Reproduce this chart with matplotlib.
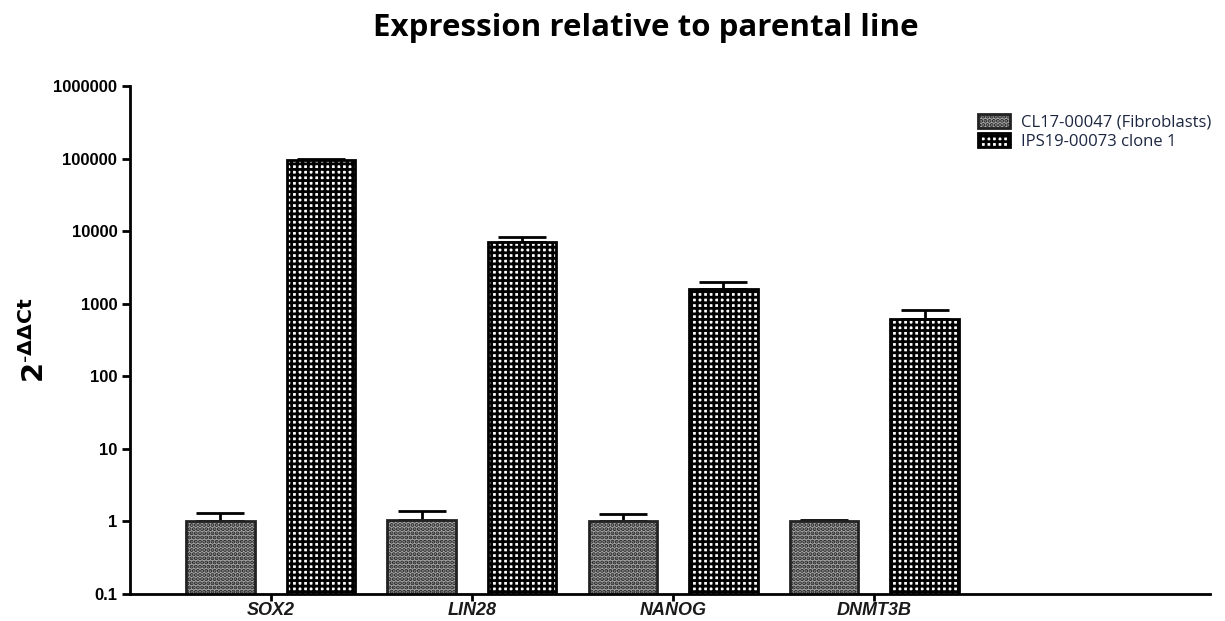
import matplotlib.pyplot as plt
import numpy as np

plt.rcParams['hatch.linewidth'] = 2.0

genes = ["SOX2", "LIN28", "NANOG", "DNMT3B"]
series = ["CL17-00047 (Fibroblasts)", "IPS19-00073 clone 1"]

fibro_mean = [1.0, 1.05, 1.0, 1.0]
fibro_err = [0.3, 0.35, 0.28, 0.05]
ips_mean = [95000, 7100, 1600, 620]
ips_err = [5000, 1100, 380, 210]

yticks = [0.1, 1, 10, 100, 1000, 10000, 100000, 1000000]
ytick_labels = ["0.1", "1", "10", "100", "1000", "10000", "100000", "1000000"]

fig = plt.figure(figsize=(12.25, 6.21), dpi=100)
ax = fig.add_axes([0.106, 0.0435, 0.882, 0.818])

x = np.arange(len(genes))
w = 0.34
off = 0.25

b1 = ax.bar(x - off, fibro_mean, w, color="#a8a8a8", edgecolor="#222222",
            hatch="....", linewidth=2, label=series[0], zorder=2)
b2 = ax.bar(x + off, ips_mean, w, color="white", edgecolor="black",
            hatch="+++", linewidth=2, label=series[1], zorder=2)

# upper error bars only
ax.errorbar(x - off, fibro_mean, yerr=[np.zeros(4), fibro_err], fmt="none",
            ecolor="black", elinewidth=2, capsize=17, capthick=2, zorder=1)
ax.errorbar(x + off, ips_mean, yerr=[np.zeros(4), ips_err], fmt="none",
            ecolor="black", elinewidth=2, capsize=17, capthick=2, zorder=1)

ax.set_yscale("log")
ax.set_ylim(0.1, 1000000)
ax.set_xlim(-0.70, 4.67)
ax.set_yticks(yticks)
ax.set_yticklabels(ytick_labels, fontfamily="Liberation Sans",
                   fontweight="bold", fontsize=12)
ax.yaxis.set_minor_locator(plt.NullLocator())
ax.set_xticks(x)
ax.set_xticklabels(genes, fontfamily="Liberation Sans", fontweight="bold",
                   fontstyle="italic", fontsize=13, color="#1a1a1a")

for s in ["top", "right"]:
    ax.spines[s].set_visible(False)
for s in ["left", "bottom"]:
    ax.spines[s].set_linewidth(2)
ax.tick_params(axis="y", direction="out", width=2, length=6, pad=3)
ax.tick_params(axis="x", direction="out", width=2, length=5, pad=1)

ax.set_ylabel(r"$\mathbf{2^{\text{-}\Delta\Delta Ct}}$", fontsize=21)
ax.yaxis.set_label_coords(-0.074, 0.5)

fig.text(0.527, 0.955, "Expression relative to parental line",
         fontfamily="Open Sans", fontweight="bold", fontsize=22.5,
         ha="center", va="center")

ax.legend(loc="upper right", bbox_to_anchor=(1.015, 0.975), frameon=False,
          prop={"family": "Open Sans", "size": 12}, labelcolor="#1c2640",
          handlelength=1.9, handleheight=0.9, handletextpad=0.7,
          labelspacing=0.15)

fig.savefig("out.png", dpi=100)
